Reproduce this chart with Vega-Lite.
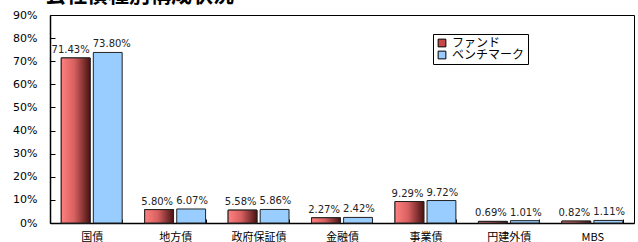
{
  "$schema": "https://vega.github.io/schema/vega-lite/v6.json",
  "width": 584,
  "height": 208,
  "autosize": {"type": "none"},
  "padding": {"left": 50, "top": 15, "right": 4, "bottom": 19},
  "background": "#ffffff",
  "title": {
    "text": "公社債種別構成状況",
    "anchor": "start",
    "frame": "group",
    "font": "Noto Sans CJK JP",
    "fontSize": 21,
    "fontWeight": "bold",
    "color": "#000000",
    "dx": -5,
    "dy": 20,
    "offset": 6,
    "baseline": "alphabetic"
  },
  "data": {
    "values": [
      {"cat": "国債", "series": "ファンド", "value": 0.7143},
      {"cat": "国債", "series": "ベンチマーク", "value": 0.738},
      {"cat": "地方債", "series": "ファンド", "value": 0.058},
      {"cat": "地方債", "series": "ベンチマーク", "value": 0.0607},
      {"cat": "政府保証債", "series": "ファンド", "value": 0.0558},
      {"cat": "政府保証債", "series": "ベンチマーク", "value": 0.0586},
      {"cat": "金融債", "series": "ファンド", "value": 0.0227},
      {"cat": "金融債", "series": "ベンチマーク", "value": 0.0242},
      {"cat": "事業債", "series": "ファンド", "value": 0.0929},
      {"cat": "事業債", "series": "ベンチマーク", "value": 0.0972},
      {"cat": "円建外債", "series": "ファンド", "value": 0.0069},
      {"cat": "円建外債", "series": "ベンチマーク", "value": 0.0101},
      {"cat": "MBS", "series": "ファンド", "value": 0.0082},
      {"cat": "MBS", "series": "ベンチマーク", "value": 0.0111}
    ]
  },
  "encoding": {
    "x": {
      "field": "cat",
      "type": "nominal",
      "sort": ["国債", "地方債", "政府保証債", "金融債", "事業債", "円建外債", "MBS"],
      "scale": {"paddingInner": 0.27, "paddingOuter": 0.135},
      "axis": {
        "title": null,
        "labelAngle": 0,
        "labelFont": "Noto Sans CJK JP",
        "labelFontSize": 11,
        "labelColor": "#000000",
        "labelPadding": 12,
        "tickBand": "extent",
        "tickSize": -4,
        "tickColor": "#000000",
        "domainColor": "#000000",
        "domainWidth": 1.5
      }
    },
    "xOffset": {
      "field": "series",
      "type": "nominal",
      "sort": ["ファンド", "ベンチマーク"],
      "scale": {"paddingInner": 0.1}
    },
    "y": {
      "field": "value",
      "type": "quantitative",
      "scale": {"domain": [0, 0.9], "nice": false},
      "axis": {
        "title": null,
        "format": ".0%",
        "values": [0, 0.1, 0.2, 0.3, 0.4, 0.5, 0.6, 0.7, 0.8, 0.9],
        "labelFont": "DejaVu Sans",
        "labelFontSize": 11,
        "labelColor": "#000000",
        "tickSize": -5,
        "labelPadding": 18,
        "tickColor": "#000000",
        "domainColor": "#000000",
        "domainWidth": 1.5,
        "grid": false
      }
    }
  },
  "layer": [
    {
      "mark": {"type": "bar", "stroke": "#222222", "strokeWidth": 1},
      "encoding": {
        "color": {
          "field": "series",
          "type": "nominal",
          "sort": ["ファンド", "ベンチマーク"],
          "scale": {"range": ["#c84848", "#99ccff"]},
          "legend": {
            "title": null,
            "orient": "none",
            "legendX": 383,
            "legendY": 19,
            "strokeColor": "#000000",
            "fillColor": "#ffffff",
            "padding": 3,
            "rowPadding": 0,
            "symbolType": "square",
            "symbolSize": 60,
            "symbolStrokeColor": "#000000",
            "symbolStrokeWidth": 1,
            "labelFont": "Noto Sans CJK JP",
            "labelFontSize": 12,
            "labelColor": "#000000",
            "labelOffset": 4
          }
        }
      }
    },
    {
      "transform": [{"filter": "datum.series === 'ファンド'"}],
      "mark": {
        "type": "bar",
        "stroke": "#222222",
        "strokeWidth": 1,
        "fill": {
          "gradient": "linear",
          "x1": 0, "y1": 0, "x2": 1, "y2": 0,
          "stops": [
            {"offset": 0, "color": "#ff8080"},
            {"offset": 0.45, "color": "#d86060"},
            {"offset": 1, "color": "#4a1212"}
          ]
        }
      }
    },
    {
      "transform": [{"filter": "datum.series === 'ファンド'"}],
      "mark": {"type": "text", "baseline": "alphabetic", "align": "right", "dx": 14, "dy": -5, "font": "DejaVu Sans", "fontSize": 10, "color": "#222222"},
      "encoding": {
        "text": {"field": "value", "type": "quantitative", "format": ".2%"}
      }
    },
    {
      "transform": [{"filter": "datum.series === 'ベンチマーク'"}],
      "mark": {"type": "text", "baseline": "alphabetic", "align": "left", "dx": -15, "dy": -5, "font": "DejaVu Sans", "fontSize": 10, "color": "#222222"},
      "encoding": {
        "text": {"field": "value", "type": "quantitative", "format": ".2%"}
      }
    }
  ],
  "config": {
    "view": {"stroke": "#000000", "strokeWidth": 1}
  }
}
